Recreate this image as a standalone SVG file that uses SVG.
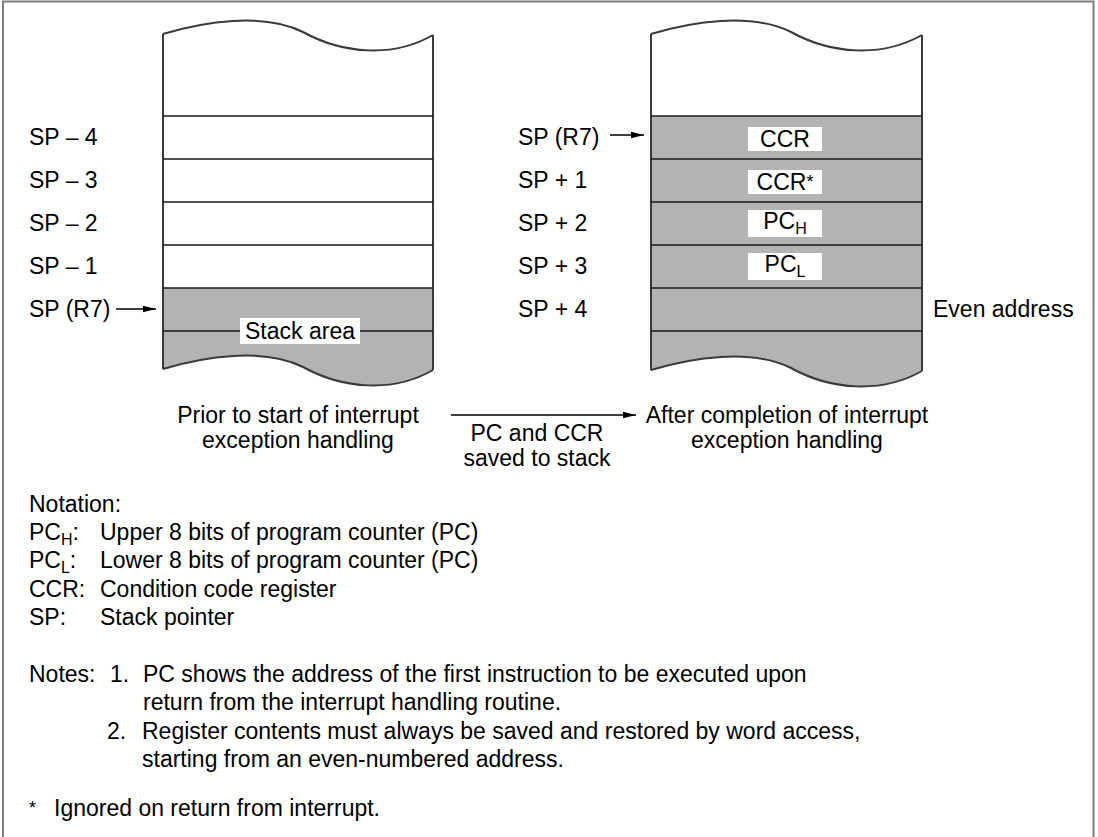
<svg xmlns="http://www.w3.org/2000/svg" width="1098" height="837" viewBox="0 0 1098 837">
  <style>
    .t { font-family: "Liberation Sans", Arial, sans-serif; font-size: 23px; fill: #000; }
    .m { text-anchor: middle; }
    .sub { font-size: 16px; }
    .edge { fill: none; stroke: #3a3a3a; stroke-width: 2; }
    .row { stroke: #1a1a1a; stroke-width: 1.6; }
    .gray { fill: #b3b3b3; }
    .lbl { fill: #fff; }
    .conn { stroke: #000; stroke-width: 1.3; fill: none; marker-end: url(#ah); }
  </style>
  <defs>
    <marker id="ah" markerUnits="userSpaceOnUse" markerWidth="14" markerHeight="8" refX="13" refY="4" orient="auto">
      <path d="M0,0.8 L13,4 L0,7.2 Z" fill="#000"/>
    </marker>
  </defs>
  <rect x="0" y="0" width="1098" height="837" fill="#fff"/>
  <rect id="frame" x="3" y="1.5" width="1090.5" height="850" fill="none" stroke="#808080" stroke-width="2"/>

  <g id="stack-before">
    <path d="M163,34 C203,22 263,12 303,32 C343,54 393,58 433,35 L433,288 L163,288 Z" fill="#fff"/>
    <path class="gray" d="M163,288 L433,288 L433,370 C393,393 343,389 303,367 C263,347 203,357 163,369 Z"/>
    <path class="edge" d="M163,34 C203,22 263,12 303,32 C343,54 393,58 433,35"/>
    <path class="edge" d="M163,369 C203,357 263,347 303,367 C343,389 393,393 433,370"/>
    <line class="edge" x1="163" y1="34" x2="163" y2="369"/>
    <line class="edge" x1="433" y1="35" x2="433" y2="370"/>
    <line class="row" x1="163" y1="116" x2="433" y2="116"/>
    <line class="row" x1="163" y1="159" x2="433" y2="159"/>
    <line class="row" x1="163" y1="202" x2="433" y2="202"/>
    <line class="row" x1="163" y1="245" x2="433" y2="245"/>
    <line class="row" x1="163" y1="288" x2="433" y2="288"/>
    <line class="row" x1="163" y1="331" x2="433" y2="331"/>
    <rect class="lbl" x="240" y="318" width="120" height="26"/>
    <text class="t m" x="300" y="339">Stack area</text>
  </g>

  <g id="stack-after">
    <path d="M651,34 C691,22 751,12 791,32 C831,54 881,58 922,35 L922,116 L651,116 Z" fill="#fff"/>
    <path class="gray" d="M651,116 L922,116 L922,371 C881,394 831,390 791,368 C751,348 691,358 651,370 Z"/>
    <path class="edge" d="M651,34 C691,22 751,12 791,32 C831,54 881,58 922,35"/>
    <path class="edge" d="M651,370 C691,358 751,348 791,368 C831,390 881,394 922,371"/>
    <line class="edge" x1="651" y1="34" x2="651" y2="370"/>
    <line class="edge" x1="922" y1="35" x2="922" y2="371"/>
    <line class="row" x1="651" y1="116" x2="922" y2="116"/>
    <line class="row" x1="651" y1="159" x2="922" y2="159"/>
    <line class="row" x1="651" y1="202" x2="922" y2="202"/>
    <line class="row" x1="651" y1="245" x2="922" y2="245"/>
    <line class="row" x1="651" y1="288" x2="922" y2="288"/>
    <line class="row" x1="651" y1="331" x2="922" y2="331"/>
    <rect class="lbl" x="748" y="127" width="74" height="24"/>
    <text class="t m" x="785" y="147">CCR</text>
    <rect class="lbl" x="748" y="170" width="74" height="24"/>
    <text class="t m" x="785" y="190">CCR<tspan font-size="18" dy="-2">*</tspan></text>
    <rect class="lbl" x="748" y="210" width="74" height="27"/>
    <text class="t m" x="785" y="229">PC<tspan class="sub" dy="5">H</tspan></text>
    <rect class="lbl" x="748" y="253" width="74" height="27"/>
    <text class="t m" x="785" y="272">PC<tspan class="sub" dy="5">L</tspan></text>
  </g>

  <g id="labels-before">
    <text class="t" x="29" y="145">SP – 4</text>
    <text class="t" x="29" y="188">SP – 3</text>
    <text class="t" x="29" y="231">SP – 2</text>
    <text class="t" x="29" y="274">SP – 1</text>
    <text class="t" x="29" y="317">SP (R7)</text>
  </g>

  <g id="labels-after">
    <text class="t" x="518" y="145">SP (R7)</text>
    <text class="t" x="518" y="188">SP + 1</text>
    <text class="t" x="518" y="231">SP + 2</text>
    <text class="t" x="518" y="274">SP + 3</text>
    <text class="t" x="518" y="317">SP + 4</text>
    <text class="t" x="933" y="317">Even address</text>
  </g>

  <g id="connectors">
    <line class="conn" x1="116" y1="309" x2="156" y2="309"/>
    <line class="conn" x1="610" y1="135" x2="644" y2="135"/>
    <line class="conn" x1="451" y1="415" x2="636" y2="415"/>
  </g>

  <g id="captions">
    <text class="t m" x="298" y="423">Prior to start of interrupt</text>
    <text class="t m" x="298" y="448">exception handling</text>
    <text class="t m" x="537" y="441">PC and CCR</text>
    <text class="t m" x="537" y="466">saved to stack</text>
    <text class="t m" x="787" y="423">After completion of interrupt</text>
    <text class="t m" x="787" y="448">exception handling</text>
  </g>

  <g id="notation">
    <text class="t" x="29" y="512">Notation:</text>
    <text class="t" x="29" y="540">PC<tspan class="sub" dy="5">H</tspan><tspan dy="-5">:</tspan></text>
    <text class="t" x="100" y="540">Upper 8 bits of program counter (PC)</text>
    <text class="t" x="29" y="568">PC<tspan class="sub" dy="5">L</tspan><tspan dy="-5">:</tspan></text>
    <text class="t" x="100" y="568">Lower 8 bits of program counter (PC)</text>
    <text class="t" x="29" y="597">CCR:</text>
    <text class="t" x="100" y="597">Condition code register</text>
    <text class="t" x="29" y="625">SP:</text>
    <text class="t" x="100" y="625">Stack pointer</text>
  </g>

  <g id="notes">
    <text class="t" x="29" y="682">Notes:</text>
    <text class="t" x="110" y="682">1.</text>
    <text class="t" x="143" y="682">PC shows the address of the first instruction to be executed upon</text>
    <text class="t" x="143" y="710">return from the interrupt handling routine.</text>
    <text class="t" x="107" y="739">2.</text>
    <text class="t" x="142" y="739">Register contents must always be saved and restored by word access,</text>
    <text class="t" x="142" y="767">starting from an even-numbered address.</text>
    <text class="t" x="29" y="816"><tspan font-size="18" dy="-2">*</tspan></text>
    <text class="t" x="54" y="816">Ignored on return from interrupt.</text>
  </g>
</svg>
